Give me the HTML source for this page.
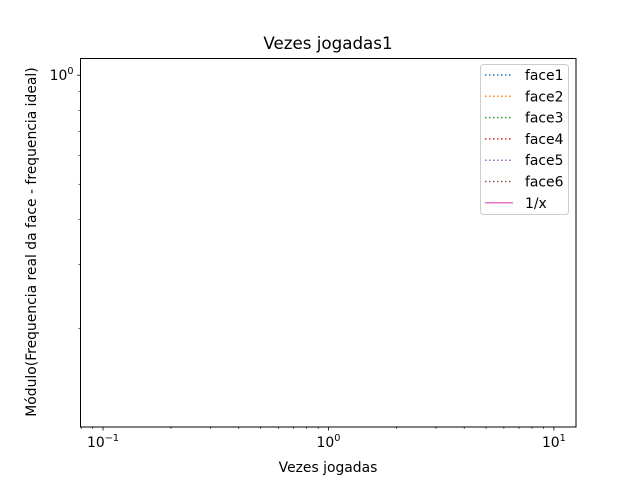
<!DOCTYPE html>
<html><head><meta charset="utf-8"><style>
body{margin:0;background:#fff;}
svg{display:block;font-family:"DejaVu Sans","Liberation Sans",sans-serif;}
</style></head><body>
<svg id="chart" width="640" height="480" xmlns="http://www.w3.org/2000/svg">
<rect width="640" height="480" fill="#fff"/>
<text x="328" y="49" font-size="16.7" text-anchor="middle">Vezes jogadas1</text>
<g id="ticks"></g>
<g id="series"></g>
<rect x="80.5" y="58.5" width="495.5" height="368.5" fill="none" stroke="#000" stroke-width="1"/>
<text x="328" y="472" font-size="13.9" text-anchor="middle">Vezes jogadas</text>
<text transform="translate(36,242) rotate(-90)" font-size="13.9" text-anchor="middle">Módulo(Frequencia real da face - frequencia ideal)</text>
<g id="legend">
<rect x="480.5" y="64.5" width="88" height="150" rx="3" fill="#fff" fill-opacity="0.8" stroke="#ccc"/>
</g>
</svg>
<script>
const seriesNames=["face1","face2","face3","face4","face5","face6","1/x"];
const seriesColors=["#1f77b4","#ff7f0e","#2ca02c","#d62728","#9467bd","#8c564b","#e377c2"];
const xValues=[];
const face1=[],face2=[],face3=[],face4=[],face5=[],face6=[],inv=[];
const xTickLabels=["-1","0","1"];
const yTickLabels=["0"];
const NS="http://www.w3.org/2000/svg";
const L=80.5,R=576,T=58.5,B=427;
const xmin=-1.1,xmax=1.098,ymin=-0.971,ymax=0.046;
const xs=v=>L+(Math.log10(v)-xmin)/(xmax-xmin)*(R-L);
const ys=v=>B-(Math.log10(v)-ymin)/(ymax-ymin)*(B-T);
function mk(t,a,p){const e=document.createElementNS(NS,t);for(const k in a)e.setAttribute(k,a[k]);(p||document.getElementById('ticks')).appendChild(e);return e;}
for(let d=-2;d<=1;d++){for(let m=1;m<10;m++){const v=m*Math.pow(10,d);const lv=Math.log10(v);
 if(lv<xmin||lv>xmax)continue;const x=xs(v);
 const ln=mk('line',{x1:x,x2:x,y1:B,y2:B+(m==1?3.5:2),stroke:'#000','stroke-width':m==1?0.8:0.6});
 
 
 if(m==1){const t=mk('text',{x:x,y:B+20,'font-size':13.9,'text-anchor':'middle'});
 
 
 t.innerHTML='10<tspan dy="-6" font-size="9.7">'+(d<0?'\u2212'+(-d):d)+'</tspan>';}}}
for(let d=-1;d<=0;d++){for(let m=1;m<10;m++){const v=m*Math.pow(10,d);const lv=Math.log10(v);
 if(lv<ymin||lv>ymax)continue;const y=ys(v);
 const ln=mk('line',{x1:L,x2:L-(m==1?3.5:2),y1:y,y2:y,stroke:'#000','stroke-width':m==1?0.8:0.6});
 
 
 if(m==1){const t=mk('text',{x:L-7,y:y+5,'font-size':13.9,'text-anchor':'end'});
 
 
 t.innerHTML='10<tspan dy="-6" font-size="9.7">'+d+'</tspan>';}}}
const all=[face1,face2,face3,face4,face5,face6,inv];
const sg=document.getElementById('series');
all.forEach((s,i)=>{if(!s.length)return;const p=mk('polyline',{points:s.map((v,j)=>xs(xValues[j])+','+ys(v)).join(' '),fill:'none',stroke:seriesColors[i],'stroke-dasharray':i<6?'1.5,2.5':''},sg);
 
 });
const lg=document.getElementById('legend');
seriesNames.forEach((n,i)=>{const y=75+i*21.3;
 const ln=mk('line',{x1:485,x2:513,y1:y,y2:y,stroke:seriesColors[i],'stroke-width':1.5,'stroke-dasharray':i<6?'1.5,2.5':''},lg);
 
 
 const t=mk('text',{x:525,y:y+5,'font-size':13.9},lg);
 
 
 t.textContent=n;});
</script>
</body></html>
